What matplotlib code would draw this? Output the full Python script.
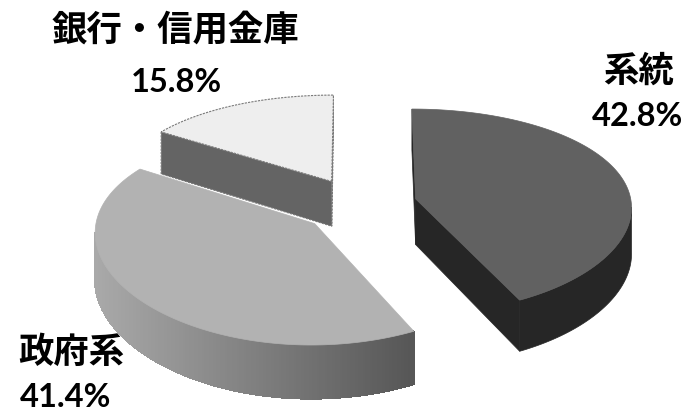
import numpy as np
import matplotlib.pyplot as plt
from matplotlib.patches import Polygon

# data
labels = ["系統", "政府系", "銀行・信用金庫"]
shares = [42.8, 41.4, 15.8]
pct_labels = ["42.8%", "41.4%", "15.8%"]

top_colors = ["#616161", "#b2b2b2", "#eeeeee"]
side_colors = ["#262626", "gradient", "#646464"]
label_pos = [(639, 71), (71, 352), (175, 30)]
pct_pos = [(637, 117), (66, 398), (176, 82)]

# fake 3d pie: unit radius in plane (u right, v back), z = height
X0, Y0 = 359, 206
R, RK, D = 216, 102, 46
P, PX = 0.12, 0.07
EXPLODE = 0.27


def proj(u, v, z):
    u = np.asarray(u, float)
    v = np.asarray(v, float)
    z = np.asarray(z, float)
    f = 1.0 / (1.0 + P * v)
    fx = 1.0 / (1.0 + PX * v)
    return np.column_stack([X0 + R * u * fx, Y0 - (RK * v + D * z) * f])


def facing(xy):
    # signed area with screen y flipped, > 0 means the face points at us
    x, y = xy[:, 0], -xy[:, 1]
    return 0.5 * np.sum(x * np.roll(y, -1) - np.roll(x, -1) * y) > 0


def grad_gray(x):
    t = np.clip((x - 90) / (412 - 90), 0, 1)
    g = 0.67 - 0.33 * t
    return (g, g, g)


fig = plt.figure(figsize=(6.93, 4.14), dpi=100)
ax = fig.add_axes([0, 0, 1, 1])
ax.set_xlim(0, 693)
ax.set_ylim(414, 0)
ax.axis("off")

# angles: start at 12 o'clock, clockwise
total = sum(shares)
cw = np.concatenate([[0], np.cumsum(shares) / total * 360])
wedges = []
for i in range(len(shares)):
    a2 = np.radians(90 - cw[i])
    a1 = np.radians(90 - cw[i + 1])
    mid = (a1 + a2) / 2
    cu, cv = EXPLODE * np.cos(mid), EXPLODE * np.sin(mid)
    wedges.append((a1, a2, cu, cv))

for i in [2, 1, 0]:
    a1, a2, cu, cv = wedges[i]
    dashed = i == 2
    ekw = dict(edgecolor="#7a7a7a", linestyle=(0, (2, 1)), linewidth=0.8)

    # radial faces
    r1 = proj([cu, cu, cu + np.cos(a1), cu + np.cos(a1)],
              [cv, cv, cv + np.sin(a1), cv + np.sin(a1)], [0, -1, -1, 0])
    r2 = proj([cu + np.cos(a2), cu + np.cos(a2), cu, cu],
              [cv + np.sin(a2), cv + np.sin(a2), cv, cv], [0, -1, -1, 0])
    for xy in (r1, r2):
        if facing(xy):
            col = grad_gray(xy[:, 0].max()) if side_colors[i] == "gradient" else side_colors[i]
            ax.add_patch(Polygon(xy, closed=True, facecolor=col,
                                 **(ekw if dashed else dict(edgecolor=col, linewidth=0.5))))

    # curved side: keep only the part turned towards the viewer
    ts = np.linspace(a1, a2, 240)
    vis = []
    for t0, t1 in zip(ts[:-1], ts[1:]):
        q = proj([cu + np.cos(t0), cu + np.cos(t0), cu + np.cos(t1), cu + np.cos(t1)],
                 [cv + np.sin(t0), cv + np.sin(t0), cv + np.sin(t1), cv + np.sin(t1)],
                 [0, -1, -1, 0])
        if facing(q):
            vis.append(q)
    if vis:
        if side_colors[i] == "gradient":
            for q in vis:
                col = grad_gray(q[:, 0].mean())
                ax.add_patch(Polygon(q, closed=True, facecolor=col, edgecolor=col,
                                     linewidth=0.8, antialiased=False))
        else:
            tops = np.array([q[0] for q in vis] + [vis[-1][3]])
            bots = np.array([q[1] for q in vis] + [vis[-1][2]])
            strip = np.vstack([tops, bots[::-1]])
            col = side_colors[i]
            ax.add_patch(Polygon(strip, closed=True, facecolor=col,
                                 **(ekw if dashed else dict(edgecolor=col, linewidth=0.5))))

    tt = np.linspace(a1, a2, 200)
    top = proj(np.concatenate([[cu], cu + np.cos(tt)]),
               np.concatenate([[cv], cv + np.sin(tt)]), 0)
    if dashed:
        ax.add_patch(Polygon(top, closed=True, facecolor=top_colors[i], **ekw))
    else:
        ax.add_patch(Polygon(top, closed=True, facecolor=top_colors[i],
                             edgecolor=top_colors[i], linewidth=0.5))

for i in range(len(labels)):
    ax.text(*label_pos[i], labels[i], ha="center", va="center", fontsize=25.5,
            fontweight="bold", family=["Noto Sans CJK JP", "DejaVu Sans"])
    ax.text(*pct_pos[i], pct_labels[i], ha="center", va="center", fontsize=23.5,
            fontweight="bold", family=["Lato", "DejaVu Sans"])

fig.savefig("out.png", dpi=100)
